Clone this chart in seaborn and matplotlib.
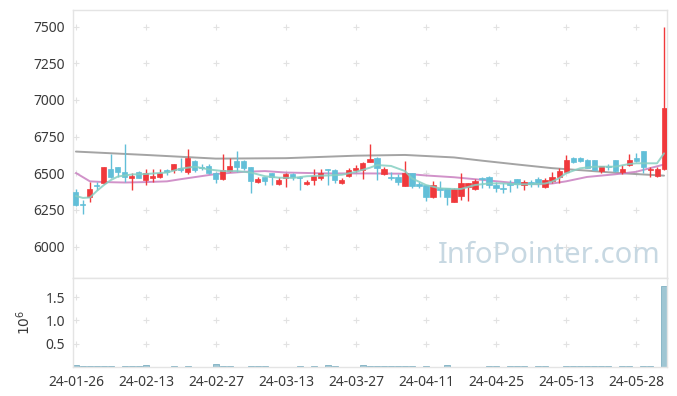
"""Daily candlestick chart with moving averages and volume panel."""

import matplotlib

matplotlib.use("Agg")
import matplotlib.pyplot as plt
import numpy as np
import pandas as pd
import seaborn as sns

# --- data (85 trading days) ---
opens = [6375, 6293, 6340, 6420, 6431, 6529, 6540, 6511, 6470, 6511,
         6454, 6470, 6477, 6522, 6522, 6534, 6511, 6584, 6545, 6549,
         6499, 6458, 6518, 6584, 6584, 6540, 6438, 6477, 6499, 6427,
         6470, 6493, 6476, 6427, 6454, 6470, 6527, 6522, 6431, 6481,
         6522, 6522, 6579, 6606, 6495, 6477, 6477, 6415, 6499, 6424,
         6420, 6340, 6397, 6397, 6306, 6347, 6408, 6390, 6465, 6472,
         6420, 6402, 6431, 6461, 6420, 6438, 6461, 6408, 6450, 6472,
         6507, 6607, 6607, 6591, 6591, 6516, 6550, 6591, 6511, 6557,
         6607, 6652, 6522, 6482, 6527]
highs = [6390, 6318, 6438, 6440, 6545, 6629, 6545, 6697, 6499, 6515,
         6527, 6527, 6527, 6532, 6563, 6602, 6665, 6590, 6563, 6560,
         6510, 6629, 6602, 6652, 6590, 6545, 6477, 6477, 6499, 6477,
         6504, 6499, 6480, 6454, 6527, 6527, 6529, 6529, 6465, 6538,
         6556, 6579, 6697, 6613, 6540, 6511, 6493, 6583, 6499, 6438,
         6420, 6449, 6449, 6397, 6397, 6499, 6431, 6458, 6477, 6481,
         6443, 6431, 6454, 6461, 6454, 6454, 6477, 6465, 6511, 6534,
         6625, 6613, 6613, 6598, 6591, 6550, 6560, 6591, 6557, 6629,
         6636, 6652, 6545, 6545, 7500]
lows = [6280, 6220, 6302, 6385, 6425, 6465, 6477, 6438, 6383, 6465,
        6420, 6438, 6465, 6488, 6499, 6511, 6493, 6511, 6522, 6493,
        6431, 6454, 6511, 6511, 6522, 6368, 6431, 6420, 6420, 6420,
        6408, 6454, 6386, 6420, 6420, 6454, 6420, 6431, 6424, 6477,
        6511, 6461, 6579, 6454, 6488, 6454, 6420, 6415, 6397, 6397,
        6311, 6329, 6340, 6283, 6302, 6318, 6311, 6386, 6397, 6397,
        6374, 6363, 6374, 6397, 6386, 6408, 6408, 6402, 6431, 6431,
        6500, 6572, 6579, 6534, 6522, 6500, 6522, 6511, 6495, 6552,
        6579, 6500, 6477, 6477, 6522]
closes = [6285, 6283, 6393, 6410, 6540, 6477, 6511, 6477, 6483, 6470,
          6499, 6483, 6499, 6511, 6563, 6522, 6602, 6522, 6534, 6499,
          6458, 6522, 6549, 6545, 6538, 6449, 6461, 6449, 6472, 6454,
          6493, 6472, 6470, 6438, 6481, 6499, 6522, 6454, 6454, 6522,
          6534, 6572, 6595, 6538, 6529, 6470, 6438, 6499, 6415, 6415,
          6340, 6420, 6386, 6340, 6393, 6431, 6431, 6449, 6458, 6420,
          6397, 6393, 6420, 6424, 6438, 6424, 6431, 6454, 6477, 6518,
          6591, 6580, 6586, 6538, 6522, 6550, 6540, 6516, 6527, 6591,
          6586, 6545, 6529, 6527, 6947]
volumes = [0.05, 0.025, 0.025, 0.025, 0.025, 0.025, 0.0, 0.02, 0.02, 0.02,
           0.05, 0.0, 0.0, 0.0, 0.02, 0.0, 0.02, 0.0, 0.0, 0.0,
           0.07, 0.02, 0.02, 0.0, 0.0, 0.02, 0.02, 0.02, 0.0, 0.0,
           0.0, 0.0, 0.02, 0.0, 0.02, 0.0, 0.05, 0.02, 0.0, 0.0,
           0.0, 0.05, 0.02, 0.02, 0.02, 0.02, 0.02, 0.02, 0.02, 0.0,
           0.02, 0.0, 0.0, 0.05, 0.0, 0.0, 0.0, 0.0, 0.0, 0.02,
           0.02, 0.0, 0.02, 0.02, 0.02, 0.0, 0.02, 0.02, 0.0, 0.0,
           0.02, 0.02, 0.02, 0.02, 0.02, 0.02, 0.02, 0.0, 0.02, 0.02,
           0.0, 0.02, 0.02, 0.0, 1.74]  # in millions

# moving averages, sampled where they could be read
ma_short_idx = [0, 1, 2, 3, 4, 5, 6, 8, 10, 12, 13, 15, 17, 19, 21, 23, 25,
                27, 29, 31, 33, 36, 38, 40, 42, 43, 45, 47, 48, 50, 52, 54,
                55, 57, 59, 61, 63, 65, 67, 68, 69, 70, 72, 74, 77, 79, 80,
                83, 84]
ma_short = [6345, 6332, 6335, 6380, 6420, 6454, 6478, 6492, 6495, 6502, 6505,
            6532, 6545, 6526, 6515, 6515, 6505, 6480, 6470, 6468, 6480, 6485,
            6490, 6510, 6538, 6556, 6550, 6515, 6465, 6420, 6397, 6393, 6393,
            6420, 6431, 6431, 6425, 6425, 6430, 6443, 6466, 6500, 6534, 6545,
            6545, 6563, 6568, 6568, 6636]
ma_mid_idx = [0, 2, 4, 7, 10, 13, 15, 20, 24, 27, 30, 36, 42, 47, 50, 54, 58,
              63, 66, 68, 70, 73, 77, 80, 84]
ma_mid = [6502, 6445, 6440, 6437, 6440, 6445, 6460, 6495, 6510, 6515, 6505,
          6499, 6499, 6497, 6485, 6473, 6455, 6432, 6425, 6430, 6445, 6475,
          6493, 6510, 6560]
ma_long_idx = [0, 10, 20, 30, 40, 47, 54, 58, 63, 68, 73, 78, 84]
ma_long = [6648, 6625, 6600, 6603, 6620, 6625, 6608, 6586, 6560, 6535, 6518,
           6500, 6484]

tick_labels = ["24-01-26", "24-02-13", "24-02-27", "24-03-13", "24-03-27",
               "24-04-11", "24-04-25", "24-05-13", "24-05-28"]
price_ticks = [6000, 6250, 6500, 6750, 7000, 7250, 7500]
volume_ticks = [0.5, 1.0, 1.5]

# --- style ---
sns.set_theme(style="white")
plt.rcParams["font.family"] = ["Noto Sans", "DejaVu Sans"]

UP = "#f0393c"
DOWN = "#62bfd8"
SPINE = "#e4e4e4"
TEXT = "#3a3a3a"
PLUS = "#e2e2e2"

df = pd.DataFrame({"open": opens, "high": highs, "low": lows,
                   "close": closes, "volume": volumes})
df["x"] = np.arange(len(df))
df["up"] = df["close"] >= df["open"]

fig = plt.figure(figsize=(6.77, 3.96), dpi=100)
ax = fig.add_axes([0.108, 0.298, 0.877, 0.677])
ax_vol = fig.add_axes([0.108, 0.073, 0.877, 0.225], sharex=ax)

tick_pos = np.arange(0, len(df), 10)[: len(tick_labels)]

# grid "+" markers at tick intersections
gx, gy = np.meshgrid(tick_pos, price_ticks)
ax.scatter(gx.ravel(), gy.ravel(), marker="+", s=16, color=PLUS,
           linewidths=0.8, zorder=0)
gx, gy = np.meshgrid(tick_pos, volume_ticks)
ax_vol.scatter(gx.ravel(), gy.ravel(), marker="+", s=16, color=PLUS,
               linewidths=0.8, zorder=0)

# moving averages
sns.lineplot(x=ma_long_idx, y=ma_long, color="#9a9a9a", linewidth=1.4,
             alpha=0.9, ax=ax, zorder=1)
sns.lineplot(x=ma_mid_idx, y=ma_mid, color="#c97fc0", linewidth=1.4,
             alpha=0.85, ax=ax, zorder=1)

# candles
colors = np.where(df["up"], UP, DOWN)
ax.vlines(df["x"], df["low"], df["high"], colors=colors, linewidth=1.0,
          zorder=2)
body_low = df[["open", "close"]].min(axis=1)
body_h = (df["close"] - df["open"]).abs().clip(lower=4)
ax.bar(df["x"], body_h, bottom=body_low, width=0.72, color=colors,
       edgecolor=colors, linewidth=0.5, zorder=3)

sns.lineplot(x=ma_short_idx, y=ma_short, color="#86cfc2", linewidth=1.4,
             alpha=0.85, ax=ax, zorder=4)

# volume
ax_vol.bar(df["x"], df["volume"], width=0.95, color="#9fc6d3",
           edgecolor="#7fb0c2", linewidth=0.6, zorder=2)

# watermark
ax.text(0.99, 0.085, "InfoPointer.com", transform=ax.transAxes,
        ha="right", va="center", fontsize=21, color="#c7d8e2", zorder=0)

# axes formatting
ax.set_xlim(-0.4, len(df) - 0.6)
ax.set_ylim(5786, 7614)
ax.set_yticks(price_ticks)
ax.tick_params(axis="x", labelbottom=False, length=0)
ax.tick_params(axis="y", length=0, labelsize=10, labelcolor=TEXT, pad=6)

ax_vol.set_ylim(0, 1.91)
ax_vol.set_yticks(volume_ticks)
ax_vol.set_xticks(tick_pos)
ax_vol.set_xticklabels(tick_labels)
ax_vol.tick_params(axis="both", length=0, labelsize=10, labelcolor=TEXT,
                   pad=6)
ax_vol.set_ylabel(r"$10^6$", fontsize=10, color=TEXT, labelpad=8)

for a in (ax, ax_vol):
    a.set_xlabel("")
    for spine in a.spines.values():
        spine.set_color(SPINE)
        spine.set_linewidth(1.0)

fig.savefig("out.png", dpi=100)
plt.close(fig)
